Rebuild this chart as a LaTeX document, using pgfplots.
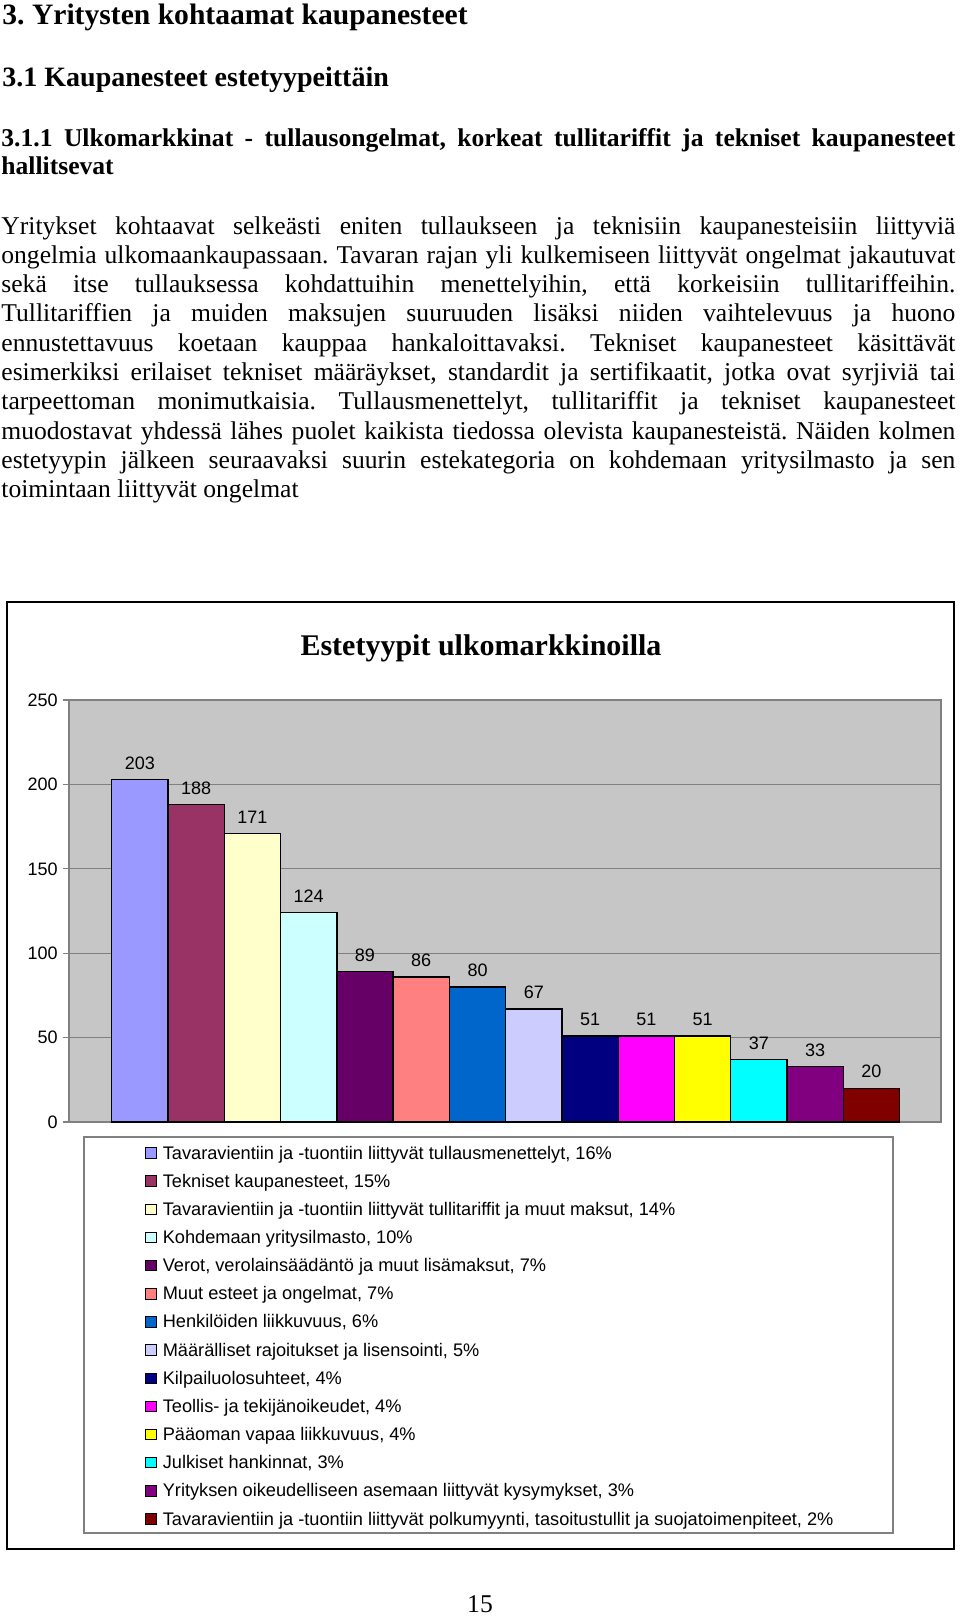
\documentclass[border=0pt]{standalone}
\usepackage{fontspec}
\setmainfont{Liberation Serif}
\newfontfamily\arialf{Liberation Sans}
\usepackage{pgfplots}
\pgfplotsset{compat=1.18}
\definecolor{cA}{HTML}{9999FF}
\definecolor{cB}{HTML}{993366}
\definecolor{cC}{HTML}{FFFFCC}
\definecolor{cD}{HTML}{CCFFFF}
\definecolor{cE}{HTML}{660066}
\definecolor{cF}{HTML}{FF8080}
\definecolor{cG}{HTML}{0066CC}
\definecolor{cH}{HTML}{CCCCFF}
\definecolor{cI}{HTML}{000080}
\definecolor{cJ}{HTML}{FF00FF}
\definecolor{cK}{HTML}{FFFF00}
\definecolor{cL}{HTML}{00FFFF}
\definecolor{cM}{HTML}{800080}
\definecolor{cN}{HTML}{800000}
\definecolor{plotgray}{HTML}{C6C6C6}
\definecolor{axgray}{HTML}{808080}
\newcommand{\bodyfont}{\fontsize{12.8}{15}\selectfont}
\newcommand{\chfont}{\arialf\fontsize{9}{10.5}\selectfont}
\frenchspacing
\begin{document}
\begin{tikzpicture}
\useasboundingbox (0,0) rectangle (480pt,-809.5pt);
% headings
\node[anchor=base west, inner sep=0pt] at (1pt,-12pt) {\fontsize{14.8}{17}\selectfont\bfseries 3. Yritysten kohtaamat kaupanesteet};
\node[anchor=base west, inner sep=0pt] at (1pt,-43pt) {\fontsize{14}{17}\selectfont\bfseries 3.1 Kaupanesteet estetyypeittäin};
\node[anchor=base west, inner sep=0pt] at (0.5pt,-73pt) {\fontsize{12.8}{15}\selectfont\bfseries\hbox to 477pt{3.1.1 Ulkomarkkinat - tullausongelmat, korkeat tullitariffit ja tekniset kaupanesteet}};
\node[anchor=base west, inner sep=0pt] at (0.5pt,-87pt) {\fontsize{12.8}{15}\selectfont\bfseries hallitsevat};
% paragraph
\node[anchor=base west, inner sep=0pt] at (0.5pt,-117pt) {\bodyfont\hbox to 477pt{Yritykset kohtaavat selkeästi eniten tullaukseen ja teknisiin kaupanesteisiin liittyviä}};
\node[anchor=base west, inner sep=0pt] at (0.5pt,-131.65pt) {\bodyfont\hbox to 477pt{ongelmia ulkomaankaupassaan. Tavaran rajan yli kulkemiseen liittyvät ongelmat jakautuvat}};
\node[anchor=base west, inner sep=0pt] at (0.5pt,-146.3pt) {\bodyfont\hbox to 477pt{sekä itse tullauksessa kohdattuihin menettelyihin, että korkeisiin tullitariffeihin.}};
\node[anchor=base west, inner sep=0pt] at (0.5pt,-160.95pt) {\bodyfont\hbox to 477pt{Tullitariffien ja muiden maksujen suuruuden lisäksi niiden vaihtelevuus ja huono}};
\node[anchor=base west, inner sep=0pt] at (0.5pt,-175.6pt) {\bodyfont\hbox to 477pt{ennustettavuus koetaan kauppaa hankaloittavaksi. Tekniset kaupanesteet käsittävät}};
\node[anchor=base west, inner sep=0pt] at (0.5pt,-190.25pt) {\bodyfont\hbox to 477pt{esimerkiksi erilaiset tekniset määräykset, standardit ja sertifikaatit, jotka ovat syrjiviä tai}};
\node[anchor=base west, inner sep=0pt] at (0.5pt,-204.9pt) {\bodyfont\hbox to 477pt{tarpeettoman monimutkaisia. Tullausmenettelyt, tullitariffit ja tekniset kaupanesteet}};
\node[anchor=base west, inner sep=0pt] at (0.5pt,-219.55pt) {\bodyfont\hbox to 477pt{muodostavat yhdessä lähes puolet kaikista tiedossa olevista kaupanesteistä. Näiden kolmen}};
\node[anchor=base west, inner sep=0pt] at (0.5pt,-234.2pt) {\bodyfont\hbox to 477pt{estetyypin jälkeen seuraavaksi suurin estekategoria on kohdemaan yritysilmasto ja sen}};
\node[anchor=base west, inner sep=0pt] at (0.5pt,-248.85pt) {\bodyfont toimintaan liittyvät ongelmat};
% chart frame
\draw[black, line width=1pt] (3.5pt,-301pt) rectangle (477pt,-774.5pt);
\node[anchor=base, inner sep=0pt] at (240.5pt,-327.5pt) {\fontsize{15}{18}\selectfont\bfseries Estetyypit ulkomarkkinoilla};
% legend frame
\draw[axgray, line width=0.6pt] (42pt,-568.5pt) rectangle (446.5pt,-766.5pt);
\begin{axis}[
  at={(34.5pt,-561pt)}, anchor=south west,
  scale only axis, width=436pt, height=211pt,
  xmin=-0.259, xmax=15.236, ymin=0, ymax=250,
  ytick={0,50,100,150,200,250},
  xtick=\empty, ytick pos=left,
  ybar, bar width=1,
  axis background/.style={fill=plotgray},
  axis line style={draw=axgray, line width=0.6pt},
  ymajorgrids, grid style={draw=axgray, line width=0.6pt},
  tick align=outside, major tick length=3pt,
  tick style={draw=axgray, line width=0.6pt},
  /pgf/number format/assume math mode=true,
  yticklabel style={font=\chfont, inner xsep=2.5pt, inner ysep=0pt, text=black},
  nodes near coords,
  every node near coord/.append style={font=\chfont, text=black, inner ysep=4.7pt, inner xsep=0pt, anchor=south},
  legend image code/.code={\draw[#1, draw=black, line width=0.5pt] (0pt,0.4pt) rectangle (5.4pt,5.6pt);},
  legend style={draw=none, fill=none, inner sep=0pt, outer sep=0pt, row sep=4.68pt,
    at={(0.08716,-0.0545)}, anchor=north west, font=\arialf\fontsize{9.1}{11}\selectfont,
    nodes={inner xsep=3pt, inner ysep=0pt, text height=7pt, text depth=2.4pt, anchor=base west}},
]
\addplot[fill=cA, draw=black, line width=0.7pt, bar shift=0pt] coordinates {(1,203)};
\addlegendentry{Tavaravientiin ja -tuontiin liittyvät tullausmenettelyt, 16\%}
\addplot[fill=cB, draw=black, line width=0.7pt, bar shift=0pt] coordinates {(2,188)};
\addlegendentry{Tekniset kaupanesteet, 15\%}
\addplot[fill=cC, draw=black, line width=0.7pt, bar shift=0pt] coordinates {(3,171)};
\addlegendentry{Tavaravientiin ja -tuontiin liittyvät tullitariffit ja muut maksut, 14\%}
\addplot[fill=cD, draw=black, line width=0.7pt, bar shift=0pt] coordinates {(4,124)};
\addlegendentry{Kohdemaan yritysilmasto, 10\%}
\addplot[fill=cE, draw=black, line width=0.7pt, bar shift=0pt] coordinates {(5,89)};
\addlegendentry{Verot, verolainsäädäntö ja muut lisämaksut, 7\%}
\addplot[fill=cF, draw=black, line width=0.7pt, bar shift=0pt] coordinates {(6,86)};
\addlegendentry{Muut esteet ja ongelmat, 7\%}
\addplot[fill=cG, draw=black, line width=0.7pt, bar shift=0pt] coordinates {(7,80)};
\addlegendentry{Henkilöiden liikkuvuus, 6\%}
\addplot[fill=cH, draw=black, line width=0.7pt, bar shift=0pt] coordinates {(8,67)};
\addlegendentry{Määrälliset rajoitukset ja lisensointi, 5\%}
\addplot[fill=cI, draw=black, line width=0.7pt, bar shift=0pt] coordinates {(9,51)};
\addlegendentry{Kilpailuolosuhteet, 4\%}
\addplot[fill=cJ, draw=black, line width=0.7pt, bar shift=0pt] coordinates {(10,51)};
\addlegendentry{Teollis- ja tekijänoikeudet, 4\%}
\addplot[fill=cK, draw=black, line width=0.7pt, bar shift=0pt] coordinates {(11,51)};
\addlegendentry{Pääoman vapaa liikkuvuus, 4\%}
\addplot[fill=cL, draw=black, line width=0.7pt, bar shift=0pt] coordinates {(12,37)};
\addlegendentry{Julkiset hankinnat, 3\%}
\addplot[fill=cM, draw=black, line width=0.7pt, bar shift=0pt] coordinates {(13,33)};
\addlegendentry{Yrityksen oikeudelliseen asemaan liittyvät kysymykset, 3\%}
\addplot[fill=cN, draw=black, line width=0.7pt, bar shift=0pt] coordinates {(14,20)};
\addlegendentry{Tavaravientiin ja -tuontiin liittyvät polkumyynti, tasoitustullit ja suojatoimenpiteet, 2\%}
\end{axis}
% page number
\node[anchor=base, inner sep=0pt] at (240pt,-806pt) {\fontsize{12.8}{15}\selectfont 15};
\end{tikzpicture}
\end{document}
